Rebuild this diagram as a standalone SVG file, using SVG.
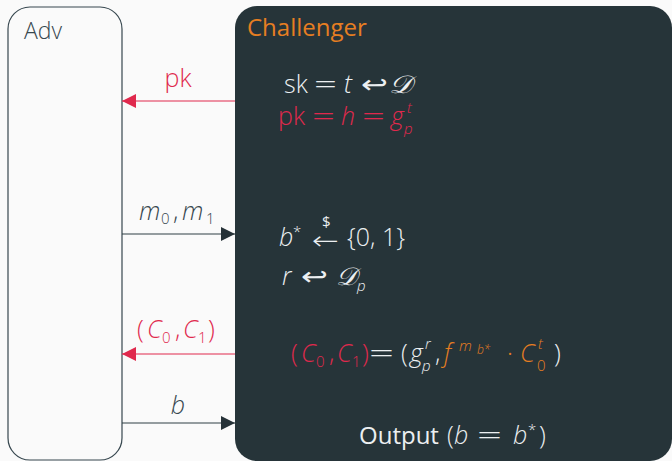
<svg xmlns="http://www.w3.org/2000/svg" width="672" height="461" viewBox="0 0 672 461">
<defs>
<style>
text{font-family:"Open Sans","Noto Sans",sans-serif;font-weight:300;font-size:25px}
.i{font-style:italic}
.s{font-size:15px}
.xs{font-size:12px}
.w{fill:#eceff1}
.r{fill:#e0294d}
.o{fill:#e67e22}
.d{fill:#37474f}
.rs{stroke:#e0294d}
.ds{stroke:#2f3e44}
.ar{font-family:"DejaVu Sans",sans-serif;font-weight:300}
.sc{font-family:"DejaVu Serif",serif;font-style:italic}
</style>
<marker id="ar" viewBox="0 0 10 10" refX="10" refY="5" markerWidth="14" markerHeight="14" markerUnits="userSpaceOnUse" orient="auto"><path d="M0,0L10,5L0,10z" fill="#e0294d"/></marker>
<marker id="ad" viewBox="0 0 10 10" refX="10" refY="5" markerWidth="14" markerHeight="14" markerUnits="userSpaceOnUse" orient="auto"><path d="M0,0L10,5L0,10z" fill="#263238"/></marker>
</defs>
<rect width="672" height="461" fill="#fafafa"/>
<g id="adv">
<rect x="8" y="7" width="114" height="453" rx="22" fill="#fafafa" stroke="#37474f" stroke-width="1.2"/>
<text x="24" y="39" class="d" style="font-size:23px">Adv</text>
</g>
<g id="challenger">
<rect x="235" y="6" width="437" height="455" rx="22" fill="#263439"/>
<text x="247" y="36" class="o" style="font-weight:400;font-size:24px">Challenger</text>
<text x="284" y="93" class="w">sk</text>
<text x="314" y="93" class="w" textLength="23" lengthAdjust="spacingAndGlyphs">=</text>
<text x="344" y="93" class="w i">t</text>
<text x="361" y="93" class="w ar" textLength="27" lengthAdjust="spacingAndGlyphs">↩</text>
<text x="389" y="93" class="w sc" textLength="23" lengthAdjust="spacingAndGlyphs">𝒟</text>
<text x="278" y="125" class="r">pk</text>
<text x="312" y="125" class="r" textLength="23" lengthAdjust="spacingAndGlyphs">=</text>
<text x="341" y="125" class="r i">h</text>
<text x="362" y="125" class="r" textLength="23" lengthAdjust="spacingAndGlyphs">=</text>
<text x="391" y="125" class="r i">g</text>
<text x="407" y="113" class="r s i">t</text>
<text x="404" y="134" class="r s i">p</text>
<text x="279" y="246" class="w i">b</text>
<text x="293" y="237" class="w s">*</text>
<text x="312" y="249" class="w ar" textLength="27" lengthAdjust="spacingAndGlyphs">←</text>
<text x="322" y="227" class="w s" style="font-weight:400">$</text>
<text x="347" y="246" class="w">{0, 1}</text>
<text x="282" y="285" class="w i">r</text>
<text x="301" y="285" class="w ar" textLength="27" lengthAdjust="spacingAndGlyphs">↩</text>
<text x="336" y="285" class="w sc" textLength="21" lengthAdjust="spacingAndGlyphs">𝒟</text>
<text x="357" y="291" class="w s i">p</text>
<text x="291" y="362" class="r">(</text>
<text x="301" y="362" class="r i">C</text>
<text x="316" y="367" class="r s">0</text>
<text x="329" y="362" class="r">,</text>
<text x="337" y="362" class="r i">C</text>
<text x="352" y="367" class="r s">1</text>
<text x="362" y="362" class="r">)</text>
<text x="369" y="362" class="w" textLength="25" lengthAdjust="spacingAndGlyphs">=</text>
<text x="401" y="362" class="w">(</text>
<text x="410" y="362" class="w i">g</text>
<text x="425" y="349" class="w s i">r</text>
<text x="422" y="371" class="w s i">p</text>
<text x="435" y="362" class="w">,</text>
<text x="444" y="362" class="o i">f</text>
<text x="459" y="351" class="o s i">m</text>
<text x="477" y="354" class="o xs i">b*</text>
<text x="507" y="362" class="o">·</text>
<text x="520" y="362" class="o i">C</text>
<text x="538" y="349" class="o s i">t</text>
<text x="537" y="371" class="o s">0</text>
<text x="554" y="362" class="w">)</text>
<text x="359" y="444" class="w" style="font-weight:400;font-size:24px">Output</text>
<text x="447" y="444" class="w">(</text>
<text x="454" y="444" class="w i">b</text>
<text x="477" y="444" class="w" textLength="25" lengthAdjust="spacingAndGlyphs">=</text>
<text x="513" y="444" class="w i">b</text>
<text x="528" y="435" class="w s">*</text>
<text x="539" y="444" class="w">)</text>
</g>
<g id="connectors">
<line x1="235" y1="101" x2="122" y2="101" class="rs" stroke-width="1.2" marker-end="url(#ar)"/>
<text x="178" y="87" text-anchor="middle" class="r">pk</text>
<line x1="122" y1="234" x2="235" y2="234" class="ds" stroke-width="1.2" marker-end="url(#ad)"/>
<text x="139" y="220" class="d i">m</text>
<text x="161" y="224" class="d s">0</text>
<text x="173" y="220" class="d">,</text>
<text x="182" y="220" class="d i">m</text>
<text x="206" y="224" class="d s">1</text>
<line x1="235" y1="354" x2="122" y2="354" class="rs" stroke-width="1.2" marker-end="url(#ar)"/>
<text x="137" y="338" class="r">(</text>
<text x="147" y="338" class="r i">C</text>
<text x="162" y="343" class="r s">0</text>
<text x="175" y="338" class="r">,</text>
<text x="183" y="338" class="r i">C</text>
<text x="198" y="343" class="r s">1</text>
<text x="208" y="338" class="r">)</text>
<line x1="122" y1="423" x2="235" y2="423" class="ds" stroke-width="1.2" marker-end="url(#ad)"/>
<text x="178" y="414" text-anchor="middle" class="d i">b</text>
</g>
</svg>
